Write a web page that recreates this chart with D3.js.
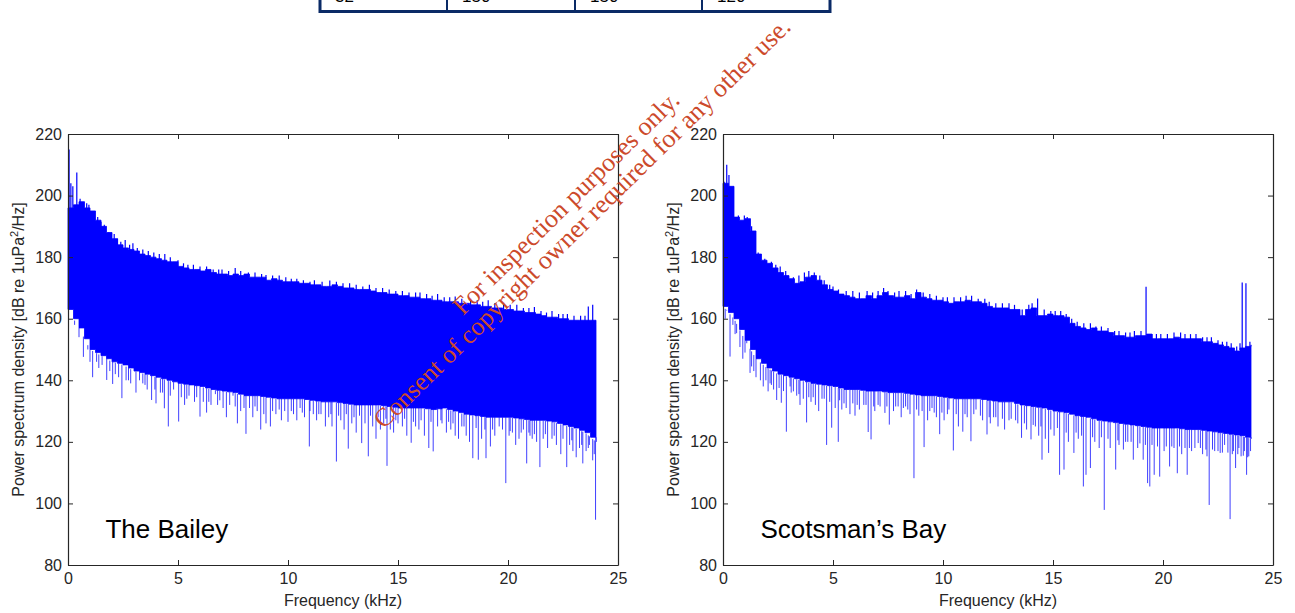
<!DOCTYPE html>
<html><head><meta charset="utf-8">
<script src="https://cdn.jsdelivr.net/npm/d3@7"></script>
<style>
html,body{margin:0;padding:0;background:#fff;}
svg{display:block;font-family:Arial,"Liberation Sans",sans-serif;}
</style></head>
<body>
<svg id="chart" width="1295" height="613"></svg>
<script>
// ---------- data ----------
const xTicks = [0,5,10,15,20,25];
const yTicks = [80,100,120,140,160,180,200,220];
const tableCells = ["32","150","150","120"];
const panelNames = ["The Bailey","Scotsman\u2019s Bay"];

// frequency grid (kHz) for upper envelope, 0.25 kHz steps
const topFreq = d3.range(0, 24.001, 0.25);
// upper envelope – The Bailey
const baileyTop = [196,197,198,196,195,192,190,188,186,184,183,182.5,182,181,180.5,180,179.5,179,178.5,178.5,
  177,176.5,176,176,175.5,176,175,174.5,174.5,174,174.5,174,174.5,173.5,173.5,173.5,172.5,173,172.5,172,
  172,172,171.5,171.5,171,171,170.5,170.5,171,170.5,170,170,169.5,169.5,169.5,169,168.5,168.5,168,168,
  167.5,167.5,167,167,166.5,166.5,166,166,165.5,165.5,165.5,165,165,164.5,164.5,164,164,163.5,163.5,163,
  163,162.5,162.5,162,162,161.5,161,160.5,160.5,160,160,159.5,159.5,159.5,159.5,159.5,158];
// upper envelope – Scotsman's Bay
const scotsTop = [204,203,193,192,192.5,188.5,181,179,178,176.5,175,174,173,171.5,172,173.5,174,172.5,171,169.5,
  169,168,167.5,167,166.5,166.5,167.5,166.5,167.5,168.5,167.5,167,167,167.5,166.5,168.5,167,166.5,166,166,
  165.5,165,165.5,165.5,166,165.5,165.5,165,164,163.5,163.5,163.5,163,163,161,163,163.5,161,161,161.5,
  161,161,160.5,158.5,157.5,157,156.5,157,156,156,155.5,154.5,154.5,154,154,154.5,154.5,155,153.5,153.5,
  153.5,153.5,154,153.5,153.5,153.5,153.5,152.5,152.5,152,151.5,151,150.5,149.5,150.5,151,151.5];

// frequency grid (kHz) for the dense lower edge, 0.5 kHz steps
const floorFreq = d3.range(0, 24.001, 0.5);
const baileyFloor = [163,157,150,148,146,145,143,142,141,140,139,138.5,138,137,136.5,136,135,135,134.5,134,
  134,134,133.5,133,133,132.5,132,132,132,131.5,131,131,131,130.5,131,130,129,128.5,128,128,128,127.5,127,127,
  126.5,125.5,124.5,123,120];
const scotsFloor = [164,160,153,147,144,142,141,140,139,138.5,138,137,137,136.5,136.5,136,136,135.5,135,135,
  134.5,134,134,134,133.5,133,133,132,131.5,131,130,129.5,128.5,128,127,126.5,126,125.5,125,124.5,124.5,124.5,
  124,124,123.5,123,122.5,122,121];

// isolated upward peaks [kHz, dB]
const baileyPeaks = [[0.05,215],[0.13,204],[0.22,203],[0.4,207.5],[0.55,199],[0.7,197.5],[0.95,197],[1.2,193],
  [1.5,191.5],[1.85,188],[2.25,186],[2.6,185.6],[2.95,184.5],[3.4,182.5],[3.9,181.5],[4.4,181],[5.0,179],
  [5.7,177.5],[6.3,177],[7.0,176],[7.6,176.5],[8.2,175],[9.0,174.2],[9.6,174],[10.4,173],[11.2,172.5],
  [11.9,172.4],[12.8,171.5],[13.7,171],[14.3,170],[15.2,169],[16.0,168.5],[16.8,168],[17.6,167.2],[18.3,166.5],
  [19.1,166],[19.8,165.2],[20.4,164.5],[21.2,163.8],[22.0,162.5],[22.7,161.5],[23.3,161],[23.65,164],[23.85,164.5],
  [0.85,197.5],[1.35,193],[1.65,190.5],[2.1,187.5],[2.4,185],[2.8,184],[3.15,183],[3.65,182],[4.15,181],[4.65,180],
  [5.25,178],[5.45,177.5],[6.0,177],[6.6,176],[6.85,176],[7.3,175.5],[7.85,175.5],[8.5,175],[8.8,174.5],[9.3,174],
  [9.9,173.5],[10.15,173],[10.7,172.5],[11.0,172],[11.55,172],[12.2,172],[12.5,171.5],[13.1,171],[13.4,170.5],
  [14.0,170],[14.6,169.5],[14.9,169],[15.5,168.5],[15.8,168.5],[16.3,168],[16.55,167.5],[17.1,167],[17.35,167],
  [17.9,166.5],[18.6,166],[18.85,165.5],[19.4,165],[20.1,164.5],[20.7,163.5],[20.95,163.5],[21.5,162.5],[21.75,162],
  [22.3,161.5],[22.5,161.5],[23.0,161],[23.5,161]];
const scotsPeaks = [[0.05,204.5],[0.17,210],[0.27,206.7],[0.42,200],[0.7,193.5],[0.97,193.5],[1.3,190],[1.9,179.5],
  [2.6,177],[3.2,173.5],[3.9,175.5],[4.4,174],[5.0,170.5],[5.9,169],[6.55,169],[7.3,170],[8.0,169],[8.8,169.5],
  [9.4,168],[10.2,167],[11.3,167.5],[12.1,165.5],[13.0,165],[13.9,164.5],[14.3,166.6],[14.9,162.5],[15.6,161.5],
  [16.4,158.5],[17.2,157.5],[18.0,156],[18.7,156],[19.23,170.4],[19.9,155],[20.8,155.5],[21.5,155],[22.2,154],
  [22.9,152.5],[23.6,171.8],[23.77,171.5],[23.95,152.5],
  [1.1,193],[1.6,181.5],[2.2,178.5],[2.4,177.5],[2.85,175.5],[3.45,174],[3.7,175],[4.15,175],[4.6,172.5],[4.85,171],
  [5.25,169.5],[5.6,169],[6.2,168.5],[6.8,168.5],[7.05,169],[7.5,169],[7.8,168.5],[8.3,169],[8.55,168],[9.1,168.5],
  [9.7,167.5],[10.0,167],[10.5,167],[10.8,167],[11.05,167.5],[11.6,166.5],[11.9,166.5],[12.4,165],[12.7,165],
  [13.25,164.5],[13.6,163],[14.05,165],[14.6,163],[15.1,162.5],[15.35,162.5],[15.85,160],[16.1,159],[16.7,158.5],
  [16.95,157.5],[17.5,157],[17.8,156],[18.3,155.5],[18.5,155.5],[19.0,156],[19.5,155],[19.7,155],[20.2,155],
  [20.5,155.5],[21.0,155],[21.25,155],[21.8,154],[22.0,154],[22.5,153],[22.7,152.5],[23.1,152],[23.35,151],[23.5,152]];

// isolated downward dips [kHz, dB]
const baileyDips = [[0.5,154],[0.7,147.6],[0.9,150],[1.12,141],[1.3,146],[1.55,145],[1.76,140.1],[1.9,143],[2.03,138.8],
  [2.3,141],[2.45,134.2],[2.64,140],[2.85,139],[3.09,136],[3.25,140],[3.4,139],[3.6,137],[3.8,133.6],[4.0,132.5],
  [4.2,136],[4.38,130.9],[4.56,125],[4.8,137],[5.03,126.6],[5.15,134.5],[5.3,132],[5.5,135],[5.75,133],[6.0,128.2],
  [6.15,133],[6.3,129.5],[6.5,132],[6.7,135.5],[6.9,133.5],[7.05,131],[7.2,128],[7.35,132],[7.5,135],[7.7,126],
  [7.85,130],[8.09,122.6],[8.25,131],[8.4,128],[8.6,130],[8.76,124],[8.9,129],[9.0,126],[9.2,125],[9.45,129],
  [9.7,127],[9.85,130],[10.0,126.5],[10.25,129],[10.4,127],[10.55,131],[10.75,128],[10.97,118.5],[11.15,129],
  [11.3,127],[11.5,129],[11.7,125],[11.85,128],[12.0,125],[12.2,113.6],[12.4,127],[12.55,124],[12.74,117.8],
  [12.9,126],[13.1,123],[13.35,119.6],[13.5,126],[13.65,115.3],[13.85,125],[14.0,121],[14.2,124],[14.35,126],
  [14.5,112.2],[14.65,124],[14.8,123],[15.0,126],[15.2,125],[15.4,122],[15.6,119.7],[15.8,125],[15.95,124],
  [16.2,122],[16.4,118],[16.6,116.9],[16.8,125],[17.0,126],[17.2,123],[17.4,124],[17.6,122],[17.75,121],[17.9,125],
  [18.1,122],[18.25,120],[18.4,114.7],[18.65,114.2],[18.8,121],[19.0,114.7],[19.2,118.5],[19.4,122],[19.6,125],
  [19.9,106.6],[20.05,122],[20.2,123],[20.35,119],[20.5,121],[20.7,124],[20.85,113],[21.0,122],[21.1,121],
  [21.3,120],[21.45,111.8],[21.6,121],[21.8,118],[22.0,121],[22.2,119],[22.4,116],[22.67,111.8],[22.8,119],
  [22.95,117],[23.1,115],[23.25,118],[23.4,113],[23.55,117],[23.7,119],[23.85,114],[23.98,94.7],
  [0.3,158],[1.0,146],[1.4,144],[2.15,142],[2.75,140],[3.5,138.5],[3.95,137],[4.3,136],[4.65,135],[5.4,134],
  [5.85,134.5],[6.4,133],[6.8,132],[7.6,131.5],[8.0,131],[8.5,131.5],[9.3,130],[9.6,130.5],[10.15,130],[10.65,129.5],
  [11.0,130],[11.4,129],[11.95,129],[12.3,128.5],[12.65,129],[13.0,128],[13.25,128.5],[13.75,128.5],[14.1,128],
  [14.45,127.5],[14.9,127],[15.3,127.5],[15.7,126.5],[16.05,127],[16.5,126.5],[16.95,127],[17.3,126.5],[17.5,126],
  [18.0,125],[18.55,124.5],[18.95,124],[19.3,124],[19.75,124],[20.1,123.5],[20.6,123],[20.95,123],[21.2,122.5],
  [21.7,122.5],[22.1,122],[22.5,121],[22.9,120.5],[23.35,119],[23.65,118],[23.92,116]];
const scotsDips = [[0.17,162.9],[0.32,147.7],[0.45,158],[0.62,155.3],[0.77,150.8],[0.9,147],[1.08,153],[1.23,142.4],
  [1.3,144.5],[1.5,141],[1.7,140],[1.83,138],[2.05,136.4],[2.14,139],[2.3,137],[2.44,133.6],[2.65,132.7],[2.88,123.3],
  [3.05,138],[3.2,136.4],[3.35,135],[3.5,132],[3.65,134],[3.8,126.3],[4.0,133],[4.2,132],[4.35,130],[4.5,134],
  [4.71,119],[4.94,124.6],[5.1,131],[5.24,120],[5.4,130.5],[5.6,131],[5.77,129],[6.0,128.5],[6.2,130.5],[6.4,132],
  [6.6,123.2],[6.73,120.8],[6.9,130],[7.14,131.5],[7.36,129.4],[7.56,125.6],[7.75,130],[7.96,131.5],[8.1,128],
  [8.3,131.5],[8.5,129],[8.68,108.2],[8.9,128.5],[9.14,118.3],[9.3,127],[9.5,131],[9.7,128],[9.85,122.5],[10.05,127],
  [10.27,130.5],[10.47,117.2],[10.7,125],[10.9,123.3],[11.1,128],[11.27,120.2],[11.5,130.5],[11.8,127],[12.0,122.4],
  [12.15,126],[12.3,128],[12.5,125],[12.8,124],[13.0,127],[13.4,126],[13.57,121.3],[13.8,124],[14.0,120.8],
  [14.2,125],[14.35,122],[14.5,114.2],[14.65,121],[14.8,116.4],[15.05,122],[15.3,109.3],[15.5,111],[15.7,120],
  [15.95,116.4],[16.15,121],[16.38,105.5],[16.5,109.3],[16.7,111.5],[16.9,120],[17.1,118],[17.33,97.9],[17.6,118],
  [17.85,111],[18.0,119],[18.2,117.5],[18.4,120],[18.65,114.2],[18.85,118],[19.1,114.2],[19.3,106.6],[19.4,105.5],
  [19.6,109.3],[19.85,108.7],[20.05,117],[20.3,112],[20.5,118],[20.65,109.8],[20.85,116],[21.1,109.3],[21.3,117],
  [21.6,119.6],[21.8,116],[22.0,115.3],[22.1,99.5],[22.35,117],[22.6,116.4],[22.8,119],[23.05,94.9],[23.2,117],
  [23.3,111.5],[23.45,118],[23.55,115.3],[23.7,117],[23.8,109.3],[23.9,115.3],[23.98,117],
  [0.1,160],[0.55,155],[1.0,149],[1.4,143],[1.95,140],[2.2,138.5],[2.55,137.5],[2.75,136.5],[3.1,136],[3.45,135.5],
  [3.9,134.5],[4.1,134.5],[4.6,134],[4.85,133],[5.3,133.5],[5.5,132.5],[5.9,132.5],[6.1,132],[6.5,132],[6.85,131.5],
  [7.05,132],[7.45,131.5],[7.85,131.5],[8.2,131],[8.4,130.5],[8.8,130.5],[9.05,130],[9.4,130],[9.6,129.5],[9.95,129.5],
  [10.2,129],[10.6,129],[11.0,129],[11.4,129],[11.7,128.5],[12.1,128],[12.4,128],[12.7,127.5],[13.1,127.5],[13.3,127],
  [13.7,126],[14.1,125.5],[14.45,125],[14.9,124],[15.2,124.5],[15.6,123],[16.05,123],[16.3,122],[16.8,121.5],
  [17.2,121.5],[17.5,121],[17.95,120.5],[18.3,120],[18.55,120],[18.95,119.5],[19.2,119],[19.5,119],[19.75,118.5],
  [20.15,118.5],[20.4,118.5],[20.75,118.5],[21.0,118],[21.2,118],[21.45,118],[21.7,118],[21.95,117.5],[22.25,117.5],
  [22.5,117],[22.7,116.5],[22.95,116.5],[23.15,116],[23.4,116],[23.65,115.5],[23.85,115]];

// ---------- drawing ----------
const svg = d3.select("#chart");
const BLUE = "#0000ff", AX = "#262626", NAVY = "#0a2a66";

// table fragment at the top
const tblX = [320, 447, 575, 702, 830];
const tg = svg.append("g");
tg.append("rect").attr("x",320).attr("y",-10).attr("width",510).attr("height",21.5)
  .attr("fill","none").attr("stroke",NAVY).attr("stroke-width",3);
tblX.slice(1,4).forEach(x => tg.append("line").attr("x1",x).attr("x2",x).attr("y1",0).attr("y2",11)
  .attr("stroke",NAVY).attr("stroke-width",2));
tableCells.forEach((t,i) => tg.append("text").attr("x",tblX[i]+15).attr("y",2).attr("font-size",17)
  .attr("fill","#000").text(t));

const panels = [
  {L:68, top:baileyTop, floor:baileyFloor, peaks:baileyPeaks, dips:baileyDips, name:panelNames[0]},
  {L:723, top:scotsTop, floor:scotsFloor, peaks:scotsPeaks, dips:scotsDips, name:panelNames[1]}
];
const T = 134, B = 565, W = 550;

panels.forEach(p => {
  const x = d3.scaleLinear().domain([0,25]).range([p.L, p.L+W]);
  const y = d3.scaleLinear().domain([80,220]).range([B, T]);
  const g = svg.append("g");
  const floorAt = f => {
    const i = Math.min(Math.floor(f/0.5), floorFreq.length-2);
    const t = (f - floorFreq[i]) / 0.5;
    return p.floor[i]*(1-t) + p.floor[i+1]*t;
  };
  const topAt = f => p.top[Math.min(Math.floor(f/0.25), p.top.length-1)];

  // dense band between lower edge and upper envelope
  const band = topFreq.map((f,i) => ({f, hi:p.top[i], lo:floorAt(f)}));
  g.append("path").datum(band)
    .attr("d", d3.area().curve(d3.curveStepAfter)
      .x(d => x(d.f)).y0(d => y(d.lo)).y1(d => y(d.hi)))
    .attr("fill", BLUE).attr("stroke", BLUE).attr("stroke-width", 0.8);

  // downward dips
  g.selectAll("line.dip").data(p.dips).join("line").attr("class","dip")
    .attr("x1", d => x(d[0])).attr("x2", d => x(d[0]))
    .attr("y1", d => y(d[1])).attr("y2", d => y(floorAt(d[0])))
    .attr("stroke", BLUE).attr("stroke-width", 1).attr("opacity", 0.75);
  // upward peaks
  g.selectAll("line.peak").data(p.peaks).join("line").attr("class","peak")
    .attr("x1", d => x(d[0])).attr("x2", d => x(d[0]))
    .attr("y1", d => y(d[1])).attr("y2", d => y(topAt(d[0])) + 2)
    .attr("stroke", BLUE).attr("stroke-width", 1.2);

  // axes (box with inward ticks)
  const fmt = d3.format("d");
  const axB = g.append("g").attr("transform",`translate(0,${B})`)
    .call(d3.axisBottom(x).tickValues(xTicks).tickFormat(fmt).tickSizeInner(-5).tickSizeOuter(0).tickPadding(8));
  const axT = g.append("g").attr("transform",`translate(0,${T})`)
    .call(d3.axisTop(x).tickValues(xTicks).tickFormat("").tickSizeInner(-5).tickSizeOuter(0));
  const axL = g.append("g").attr("transform",`translate(${p.L},0)`)
    .call(d3.axisLeft(y).tickValues(yTicks).tickFormat(fmt).tickSizeInner(-5).tickSizeOuter(0).tickPadding(6));
  const axR = g.append("g").attr("transform",`translate(${p.L+W},0)`)
    .call(d3.axisRight(y).tickValues(yTicks).tickFormat("").tickSizeInner(-5).tickSizeOuter(0));
  [axB,axT,axL,axR].forEach(a => {
    a.selectAll("path.domain").attr("stroke", AX).attr("stroke-width", 1.2);
    a.selectAll(".tick line").attr("stroke", AX);
    a.selectAll("text").attr("font-size", 16).attr("fill", AX).attr("font-family","Arial, 'Liberation Sans', sans-serif");
  });

  // axis titles
  g.append("text").attr("x", p.L + W/2).attr("y", 606).attr("text-anchor","middle")
    .attr("font-size",16).attr("fill",AX).text("Frequency (kHz)");
  const yl = g.append("text").attr("transform",`translate(${p.L-44},${(T+B)/2}) rotate(-90)`)
    .attr("text-anchor","middle").attr("font-size",16).attr("fill",AX);
  yl.append("tspan").text("Power spectrum density [dB re 1uPa");
  yl.append("tspan").attr("font-size",11).attr("dy",-6).text("2");
  yl.append("tspan").attr("dy",6).text("/Hz]");

  // panel name
  g.append("text").attr("x", x(1.7)).attr("y", 538).attr("font-size",26).attr("fill","#000").text(p.name);
});

// watermark
const wm = svg.append("g").attr("transform","translate(572,209) rotate(-44.5)")
  .attr("font-family","'Liberation Serif','Times New Roman',serif").attr("font-size",26).attr("fill","#cc4a2b")
  .attr("text-anchor","middle");
wm.append("text").attr("x",0).attr("y",0).text("For inspection purposes only.");
wm.append("text").attr("x",-2.6).attr("y",25.5).text("Consent of copyright owner required for any other use.");
</script>
</body></html>
